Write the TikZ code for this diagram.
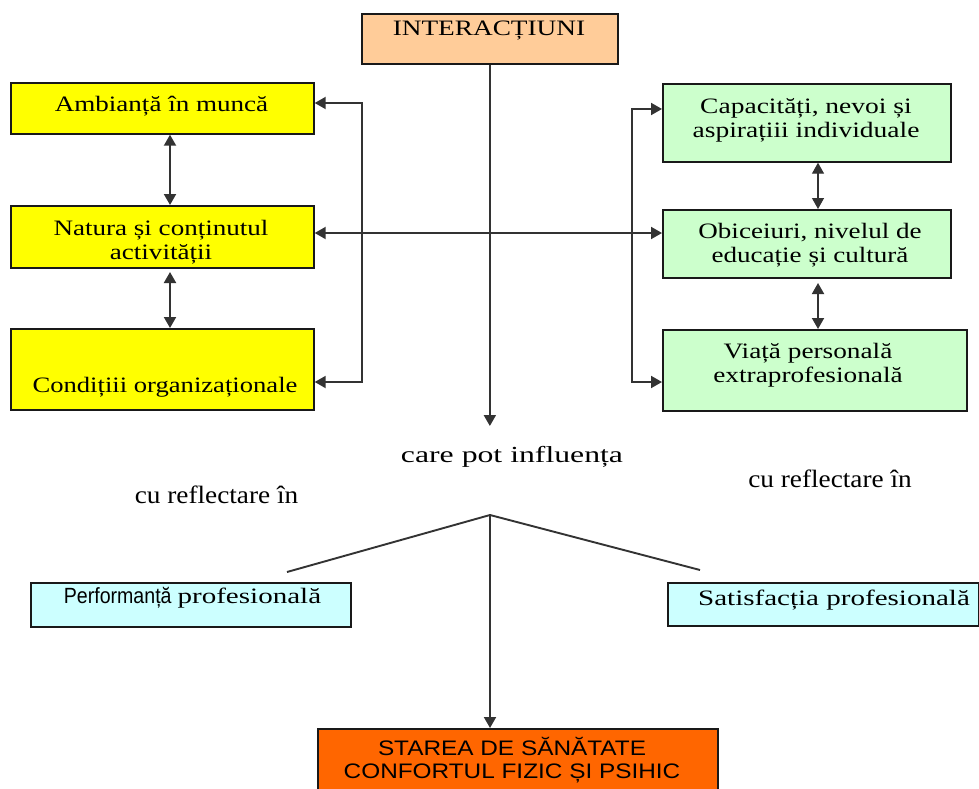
\documentclass[tikz,border=0pt]{standalone}
\usepackage{fontspec}
\setmainfont{Liberation Serif}
\setsansfont{Liberation Sans}
\usetikzlibrary{arrows.meta}
\newcommand{\sx}[2]{\scalebox{#1}[1]{#2}}
\definecolor{peach}{HTML}{FFCC99}
\definecolor{yel}{HTML}{FFFF00}
\definecolor{grn}{HTML}{CCFFCC}
\definecolor{cyn}{HTML}{CCFFFF}
\definecolor{org}{HTML}{FF6600}
\begin{document}
\begin{tikzpicture}[x=1pt,y=-1pt,
  box/.style={draw=black!90, line width=1.7pt, inner sep=0pt, anchor=north west},
  txt/.style={inner sep=0pt, anchor=base, align=center, font=\fontsize{22}{24}\selectfont},
  con/.style={draw=black!80, line width=1.9pt},
  tip/.style={-{Triangle[length=11pt,width=12pt]}},
  tips/.style={{Triangle[length=11pt,width=12pt]}-{Triangle[length=11pt,width=12pt]}}
]
\useasboundingbox (0,0) rectangle (979,789);
% boxes
\node[box, fill=peach, minimum width=256pt, minimum height=50pt] (inter) at (361,13) {};
\node[box, fill=yel, minimum width=303pt, minimum height=51pt] (amb) at (10,82) {};
\node[box, fill=yel, minimum width=303pt, minimum height=62pt] (nat) at (10,205) {};
\node[box, fill=yel, minimum width=303pt, minimum height=81pt] (cond) at (10,328) {};
\node[box, fill=grn, minimum width=288pt, minimum height=78pt] (cap) at (662,83) {};
\node[box, fill=grn, minimum width=288pt, minimum height=68pt] (obi) at (662,209) {};
\node[box, fill=grn, minimum width=304pt, minimum height=81pt] (via) at (662,329) {};
\node[box, fill=cyn, minimum width=320pt, minimum height=44pt] (perf) at (30,582) {};
\node[box, fill=cyn, minimum width=311pt, minimum height=43pt] (sat) at (667,582) {};
\node[box, fill=org, minimum width=400pt, minimum height=75pt] (stare) at (317,728) {};
% texts (base anchor = baseline of last line)
\node[txt] (tinter) at (489,36) {\sx{1.24}{INTERACȚIUNI}};
\node[txt] (tamb) at (161.5,112) {\sx{1.23}{Ambianță în muncă}};
\node[txt] (tnat) at (161,259) {\sx{1.23}{Natura și conținutul}\\\sx{1.23}{activității}};
\node[txt] (tcond) at (165,392) {\sx{1.21}{Condițiii organizaționale}};
\node[txt] (tcap) at (806,137) {\sx{1.25}{Capacități, nevoi și}\\\sx{1.25}{aspirațiii individuale}};
\node[txt] (tobi) at (810,262) {\sx{1.23}{Obiceiuri, nivelul de}\\\sx{1.23}{educație și cultură}};
\node[txt] (tvia) at (808,382) {\sx{1.24}{Viață personală}\\\sx{1.24}{extraprofesională}};
\node[txt, font=\fontsize{23}{26}\selectfont] (tcare) at (512,462) {\sx{1.38}{care pot influența}};
\node[txt, font=\fontsize{25}{28}\selectfont] (trefl) at (216.5,503) {\sx{1.09}{cu reflectare în}};
\node[txt, font=\fontsize{25}{28}\selectfont] (trefr) at (830,487) {\sx{1.09}{cu reflectare în}};
\node[txt] (tperf) at (192.5,603) {\sx{0.89}{\sffamily\fontsize{22}{24}\selectfont Performanță}\hspace{6pt}\sx{1.32}{profesională}};
\node[txt] (tsat) at (834,605) {\sx{1.32}{Satisfacția profesională}};
\node[txt, font=\sffamily\fontsize{21}{23}\selectfont] (tstare) at (512,778) {\sx{1.16}{STAREA DE SĂNĂTATE}\\\sx{1.16}{CONFORTUL FIZIC ȘI PSIHIC}};
% coordinates
\coordinate (cpi) at (489,426);
\coordinate (lb1) at (362,103);
\coordinate (lb2) at (362,382);
\coordinate (rb1) at (632,109);
\coordinate (rb2) at (632,382);
\coordinate (hy) at (480,233);
\coordinate (xl) at (170,272);
\coordinate (xr) at (818,283);
\coordinate (v) at (490,515);
\coordinate (pl) at (287,572);
\coordinate (pr) at (700,570);
% connectors
\draw[con, tip] (inter.south) -- (inter.south |- cpi);
\draw[con, tips] (amb.east |- lb1) -- (lb1) -- (lb2) -- (cond.east |- lb2);
\draw[con, tips] (nat.east |- hy) -- (obi.west |- hy);
\draw[con, tips] (cap.west |- rb1) -- (rb1) -- (rb2) -- (via.west |- rb2);
\draw[con, tips] (amb.south -| xl) -- (nat.north -| xl);
\draw[con, tips] (xl) -- (cond.north -| xl);
\draw[con, line width=1.3pt, tips] (cap.south -| xr) -- (obi.north -| xr);
\draw[con, tips] (xr) -- (via.north -| xr);
\draw[con] (pl) -- (v) -- (pr);
\draw[con, tip] (v) -- (stare.north -| v);
\end{tikzpicture}
\end{document}
